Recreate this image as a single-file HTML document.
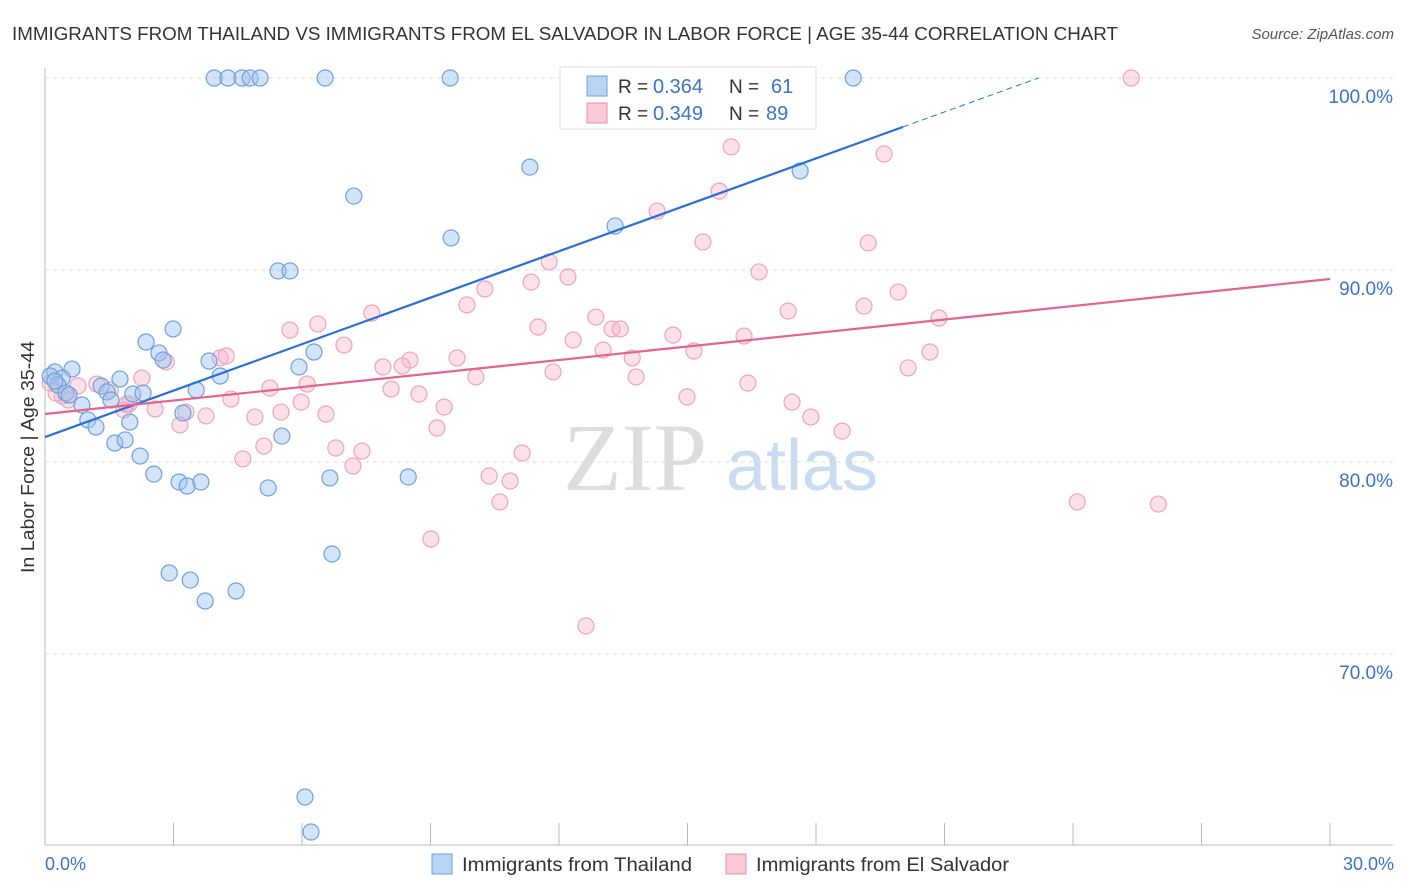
<!DOCTYPE html>
<html><head><meta charset="utf-8"><style>
body{margin:0;background:#fff;font-family:"Liberation Sans",sans-serif}
svg{display:block}
</style></head><body>
<svg id="chart" width="1406" height="892" xmlns="http://www.w3.org/2000/svg">
<text x="12" y="40" font-size="18" fill="#333" textLength="1106" lengthAdjust="spacingAndGlyphs">IMMIGRANTS FROM THAILAND VS IMMIGRANTS FROM EL SALVADOR IN LABOR FORCE | AGE 35-44 CORRELATION CHART</text>
<text x="1394" y="39" font-size="15" fill="#555" font-style="italic" text-anchor="end">Source: ZipAtlas.com</text>
<g>
<text x="635" y="490" font-size="96" font-family="Liberation Serif,serif" fill="#ddd" text-anchor="middle">ZIP</text>
<text x="802" y="490" font-size="72" fill="#c9dcf2" text-anchor="middle">atlas</text>
</g>
<g id="grid"></g>
<g id="marks"></g>
<text transform="translate(34,457) rotate(-90)" font-size="18" fill="#333" text-anchor="middle" textLength="232" lengthAdjust="spacingAndGlyphs">In Labor Force | Age 35-44</text>
<text x="45" y="870" font-size="18" fill="#3b73c8">0.0%</text>
<text x="1394" y="870" font-size="18" fill="#3b73c8" text-anchor="end">30.0%</text>
<g>
<rect x="432" y="854" width="20" height="20" fill="#b8d4f5" stroke="#6f9fdc"/>
<text x="462" y="871" font-size="19" fill="#333" textLength="230" lengthAdjust="spacingAndGlyphs">Immigrants from Thailand</text>
<rect x="726" y="854" width="20" height="20" fill="#fcc9d7" stroke="#e890ac"/>
<text x="756" y="871" font-size="19" fill="#333" textLength="253" lengthAdjust="spacingAndGlyphs">Immigrants from El Salvador</text>
</g>
<g>
<rect x="560" y="67" width="256" height="62" fill="#fff" stroke="#ddd"/>
<rect x="587" y="76" width="20" height="20" fill="#b8d4f5" stroke="#6f9fdc"/>
<rect x="587" y="103" width="20" height="20" fill="#fcc9d7" stroke="#e890ac"/>
<text x="618" y="93" font-size="19" fill="#333">R =</text>
<text x="653" y="93" font-size="20" fill="#3b73c8">0.364</text>
<text x="729" y="93" font-size="19" fill="#333">N =</text>
<text x="771" y="93" font-size="20" fill="#3b73c8">61</text>
<text x="618" y="120" font-size="19" fill="#333">R =</text>
<text x="653" y="120" font-size="20" fill="#3b73c8">0.349</text>
<text x="729" y="120" font-size="19" fill="#333">N =</text>
<text x="766" y="120" font-size="20" fill="#3b73c8">89</text>
</g>
</svg>
<script>
const yTicks=[100,90,80,70];
const yTickLabels=["100.0%","90.0%","80.0%","70.0%"];
const thaiX=[3.95,4.27,4.60,4.79,5.02,6.54,9.46,18.87,11.32,17.63,7.21,13.31,9.48,5.44,5.72,2.36,2.99,2.66,2.76,3.83,6.28,5.93,4.09,3.53,0.63,0.23,0.40,0.12,0.30,1.75,1.31,1.45,0.49,0.86,1.54,2.05,2.29,1.00,1.19,1.98,3.22,1.63,1.87,5.53,2.22,2.54,3.13,3.32,3.64,5.21,6.65,8.48,6.70,2.90,3.39,3.74,4.46,6.07,6.21,0.23,0.56];
const thaiY=[100,100,100,100,100,100,100,100,95.36,95.16,93.85,92.29,91.67,89.95,89.95,86.25,86.93,85.68,85.31,85.26,85.73,84.95,84.48,83.75,84.84,84.69,84.37,84.48,84.01,84.32,83.96,83.65,83.59,82.97,83.23,83.54,83.59,82.19,81.82,82.08,82.55,80.99,81.15,81.35,80.31,79.37,78.96,78.75,78.96,78.65,79.17,79.22,75.21,74.22,73.85,72.76,73.28,62.55,60.73,84.22,83.49];
const salvX=[25.36,16.02,19.59,15.74,14.29,15.36,19.22,16.67,11.77,12.21,11.35,10.27,9.85,7.63,6.37,5.72,6.98,11.51,12.33,12.86,13.24,13.43,14.66,16.32,17.35,19.12,19.92,20.87,20.66,15.15,13.03,13.71,9.62,8.52,7.89,8.34,11.86,10.06,13.80,20.15,16.41,14.99,17.44,17.88,18.61,8.73,8.08,6.12,5.25,4.34,4.09,4.23,2.83,2.26,1.21,0.77,0.40,0.54,0.26,1.52,1.96,2.57,3.29,3.15,3.76,4.90,5.51,5.98,6.56,9.32,9.15,6.79,7.40,7.19,4.62,5.11,11.14,10.37,10.86,10.62,9.01,12.63,24.10,25.99,0.12,1.84,1.90];
const salvY=[100,96.41,96.04,94.11,93.07,91.46,91.41,89.90,90.42,89.64,89.37,89.01,88.18,87.76,87.19,86.87,86.09,87.03,86.35,87.55,86.93,86.93,86.61,86.56,87.86,88.12,88.85,87.5,85.73,85.78,85.83,85.42,85.42,85.31,84.95,85.0,84.69,84.43,84.43,84.90,84.11,83.39,83.12,82.34,81.61,83.54,83.80,84.06,83.85,83.28,85.42,85.52,85.21,84.37,84.06,83.96,83.44,83.23,83.59,83.75,83.02,82.76,82.60,81.93,82.40,82.34,82.60,83.12,82.5,82.86,81.77,80.73,80.57,79.79,80.16,80.83,80.47,79.27,79.01,77.92,75.99,71.46,77.92,77.81,84.11,82.71,83.0];
const thaiTrend=[81.3,97.45]; const thaiTrendEnd=20.03;
const salvTrend=[82.5,89.53];
const X=v=>45+v*(1285/30), Y=v=>78+(100-v)*19.2;
const NS="http://www.w3.org/2000/svg";
function mk(p,t,a){const e=document.createElementNS(NS,t);for(const k in a)e.setAttribute(k,a[k]);p.appendChild(e);return e;}
const g=document.getElementById('grid'), m=document.getElementById('marks');
yTicks.forEach((t,i)=>{
 const l=mk(g,'line',{x1:45,x2:1393,y1:Y(t),y2:Y(t),stroke:'#ddd','stroke-dasharray':'4,4'});
 
 
 const tx=mk(g,'text',{x:1393,y:Y(t)+25,'font-size':19,fill:'#3b73c8','text-anchor':'end'});
 tx.textContent=yTickLabels[i];
 
 
});
const ax=mk(g,'line',{x1:45,x2:1393,y1:845,y2:845,stroke:'#bbb'});


const ay=mk(g,'line',{x1:45,x2:45,y1:68,y2:845,stroke:'#bbb'});


for(let i=0;i<=10;i++){const t=mk(g,'line',{x1:X(i*3),x2:X(i*3),y1:823,y2:845,stroke:'#bbb'});
 
 }
salvX.forEach((v,i)=>{const c=mk(m,'circle',{cx:X(v),cy:Y(salvY[i]),r:8,fill:'rgba(248,180,200,0.4)',stroke:'#eda3bb','stroke-width':1.2});
 
 });
thaiX.forEach((v,i)=>{const c=mk(m,'circle',{cx:X(v),cy:Y(thaiY[i]),r:8,fill:'rgba(160,196,240,0.45)',stroke:'#6f9fdc','stroke-width':1.2});
 
 });
const slope=(thaiTrend[1]-thaiTrend[0])/thaiTrendEnd;
const l1=mk(m,'line',{x1:X(0),y1:Y(thaiTrend[0]),x2:X(thaiTrendEnd),y2:Y(thaiTrend[1]),stroke:'#2a6fd6','stroke-width':2.2});


const xe=thaiTrendEnd+(100-thaiTrend[1])/slope;
const l2=mk(m,'line',{x1:X(thaiTrendEnd),y1:Y(thaiTrend[1]),x2:X(xe),y2:Y(100),stroke:'#2a6fd6','stroke-width':1,'stroke-dasharray':'6,4'});


const l3=mk(m,'line',{x1:X(0),y1:Y(salvTrend[0]),x2:X(30),y2:Y(salvTrend[1]),stroke:'#e4638f','stroke-width':2.2});


</script>
</body></html>
